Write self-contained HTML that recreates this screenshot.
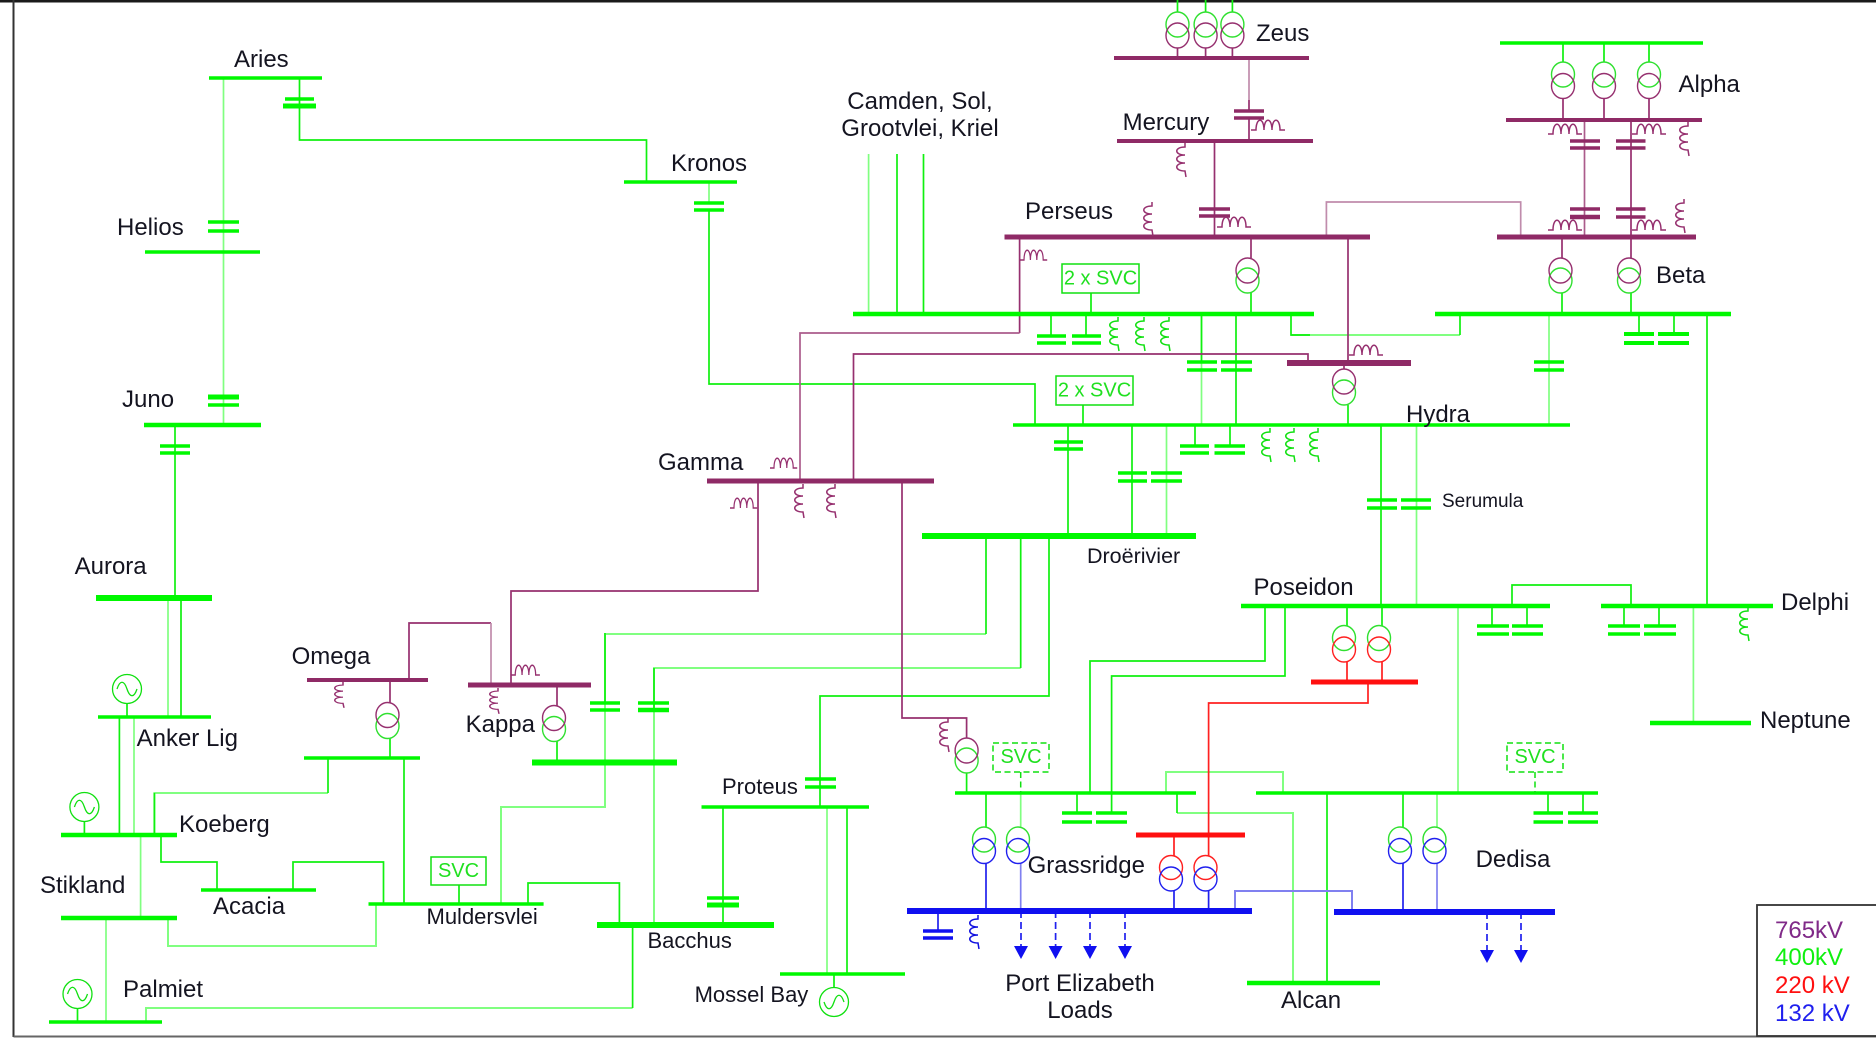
<!DOCTYPE html>
<html><head><meta charset="utf-8"><title>Grid diagram</title>
<style>
html,body{margin:0;padding:0;background:#fff}
svg{display:block}
text{font-family:"Liberation Sans",sans-serif;font-size:24px;fill:#141420;stroke:none}
.n,.l,.p,.pl,.pm,.r,.b,.bl{fill:none;stroke-width:1.7;stroke-linejoin:miter}
.n{stroke:#10f010}.l{stroke:#80ff80}.p{stroke:#96306f}.pl{stroke:#c08cac}.pm{stroke:#ab5c8c}.r{stroke:#ff2020}.b{stroke:#2020ee}.bl{stroke:#8080f0}
.bus{fill:none;stroke-linecap:butt}
.cap{fill:none;stroke-linecap:butt;stroke-width:3.4}
.sym{fill:none;stroke-width:1.5}
</style></head><body>
<svg width="1876" height="1038" viewBox="0 0 1876 1038" xmlns="http://www.w3.org/2000/svg">
<defs>
<path id="ih" d="M0 8h5c0-13 8-13 8 0c0-13 8-13 8 0c0-13 8-13 8 0h5"/>
<path id="iv" d="M2 0v4c-11 0-11 8 0 8c-11 0-11 8 0 8c-11 0-11 8 0 8l1 6"/>
</defs>
<rect width="1876" height="1038" fill="#fff"/>
<!-- frame -->
<path d="M0 1.200H1876" stroke="#1a1a1a" stroke-width="2.600" fill="none"/>
<path d="M13.500 0V1037" stroke="#333" stroke-width="2" fill="none"/>
<path d="M13.500 1036.500H1876" stroke="#666" stroke-width="2" fill="none"/>
<rect x="1757" y="905" width="125" height="131" fill="none" stroke="#333" stroke-width="1.800"/>

<!-- light green lines -->
<g class="l">
<path d="M223.500 78V425"/>
<path d="M709 182V203"/>
<path d="M868.600 154V314"/>
<path d="M168 598V717"/>
<path d="M134 717V835"/>
<path d="M140.600 835V918"/>
<path d="M106 918V1022"/>
<path d="M168 918V946H376V904" stroke-width="2"/>
<path d="M146 1022V1008H632.600" stroke-width="2"/>
<path d="M154.400 835V793H328" stroke-width="2"/>
<path d="M986 634H605V807H501V904" stroke-width="2"/>
<path d="M1020.700 668H654V925" stroke-width="2"/>
<path d="M1201.500 314V425"/>
<path d="M1166.500 425V536"/>
<path d="M1416.500 425V606"/>
<path d="M1549 314V425"/>
<path d="M1291 335H1460" stroke-width="2"/>
<path d="M1458 606V793"/>
<path d="M1693.400 606V723"/>
<path d="M1166 793V772H1283V793" stroke-width="2"/>
<path d="M1177 813H1293V983" stroke-width="2"/>
<path d="M827 807V974"/>
<path d="M1437 793V827"/>
<path d="M1020.700 793V827"/>
</g>
<!-- green lines -->
<g class="n">
<path d="M299.500 78V140H646.500V182"/>
<path d="M709 210V384H1035V425"/>
<path d="M175 425V598"/>
<path d="M181 598V717"/>
<path d="M119.400 717V835"/>
<path d="M127 703V717"/>
<path d="M84.400 821V835"/>
<path d="M77.500 1008V1022"/>
<path d="M834 974V988"/>
<path d="M154.400 835V793"/>
<path d="M328 793V758"/>
<path d="M404 758V904"/>
<path d="M390 738V758"/>
<path d="M557 741V762"/>
<path d="M161 835V862H217V890"/>
<path d="M293 890V862H383.500V904"/>
<path d="M528 904V883H619.400V925"/>
<path d="M632.600 925V1008"/>
<path d="M723 807V925"/>
<path d="M847 807V974"/>
<path d="M820 807V696H1049V536"/>
<path d="M986 536V634"/>
<path d="M1020.700 536V668"/>
<path d="M605 633V703"/>
<path d="M654 668V710"/>
<path d="M897 154V314M923.500 154V314"/>
<path d="M1201.500 314V362M1236 314V425"/>
<path d="M1051 314V335M1086 314V335"/>
<path d="M1291 314V335H1310"/>
<path d="M1460 335V314"/>
<path d="M1251 293V314"/>
<path d="M1562 293V314M1631 293V314"/>
<path d="M1639 314V334M1674 314V334"/>
<path d="M1707 314V606"/>
<path d="M1348 405V425"/>
<path d="M1068 425V536"/>
<path d="M1132 425V536"/>
<path d="M1195 425V446M1230 425V446"/>
<path d="M1381 425V606"/>
<path d="M1265 606V661H1090V793"/>
<path d="M1285 606V676H1111.600V813"/>
<path d="M1347 606V626M1382 606V626"/>
<path d="M1512 606V585H1631V606"/>
<path d="M1492 606V626M1527 606V626"/>
<path d="M1624 606V626M1659 606V626"/>
<path d="M1077 793V813"/>
<path d="M1548 793V813M1583 793V813"/>
<path d="M1177 793V813"/>
<path d="M1327 793V983"/>
<path d="M986 793V827"/>
<path d="M966.600 773V793"/>
<path d="M1403 793V827"/>
<path d="M1563 43V62M1604 43V62M1649 43V62"/>
<path d="M1177.500 0V12M1205.600 0V12M1232.400 0V12"/>
<path d="M1091 293V314M1083 405V425"/>
<path d="M459 885V904"/>
</g>
<!-- purple lines -->
<g class="p">
<path d="M1177.500 48V58M1205.600 48V58M1232.400 48V58"/>
<path d="M1249 100V111M1249 118V141"/>
<path d="M1214.500 141V237"/>
<path d="M1019.600 237V333"/>
<path d="M853.500 481V354H1308V363"/>
<path d="M1348 237V363"/>
<path d="M1251 237V258"/>
<path d="M1562 237V258M1631 120V258"/>
<path d="M1344 363V369"/>
<path d="M1563 98V120M1604 98V120M1649 98V120"/>
<path d="M758 481V591H511V685"/>
<path d="M390 680V703"/>
<path d="M409 680V623H491"/>
<path d="M557 685V706"/>
<path d="M902 481V718H966.600V738"/>
</g>
<g class="pm">
<path d="M1019.600 333H800V481"/>
<path d="M1584.500 120V237"/>
</g>
<g class="pl">
<path d="M1326.400 237V202H1520.700V237"/>
<path d="M491 623V685"/>
<path d="M1249 58V100"/>
</g>
<!-- red / blue lines -->
<g class="r">
<path d="M1347 662V682M1382 662V682"/>
<path d="M1368 682V703H1208.600V835"/>
<path d="M1174 835V856M1208.600 835V856"/>
</g>
<g class="b">
<path d="M986 863V911"/>
<path d="M1174 891V911M1208.600 891V911"/>
<path d="M1403 863V912"/>
<path d="M938 911V931"/>
<path d="M1021 911V946M1055.600 911V946M1090 911V946M1125 911V946" stroke-dasharray="7 4"/>
<path d="M1487 912V950M1521 912V950" stroke-dasharray="7 4"/>
</g>
<g class="bl">
<path d="M1020.700 863V911"/>
<path d="M1437 863V912"/>
<path d="M1235 911V891H1352V912" stroke-width="2"/>
</g>
<g fill="#1010f0">
<path d="M1014 946h14l-7 13zM1048.600 946h14l-7 13zM1083 946h14l-7 13zM1118 946h14l-7 13z"/>
<path d="M1480 950h14l-7 13zM1514 950h14l-7 13z"/>
</g>

<!-- green buses -->
<g class="bus" stroke="#00f800">
<path stroke-width="3.600" d="M209 78H322M624 182H737M145 252H260M1500 43H1703M98 717H211M49 1022H162M201 890H316M368.500 904H543.600M701.500 807H869M780 974H905M955 793H1196M1256 793H1598M1013 425H1570M304 758H420"/>
<path stroke-width="4.500" d="M144 425H261M853 314H1314M1435 314H1731M61 835H177M61 918H177M1241 606H1550M1601 606H1773M1650 723H1751M1247 983H1380"/>
<path stroke-width="6" d="M96 598H212M532 762.500H677M597 925H774M922 536H1196"/>
</g>
<!-- purple buses -->
<g class="bus" stroke="#8f2a66">
<path stroke-width="4" d="M1114 58H1309M1117 141H1313M1506 120H1702M307 680H428"/>
<path stroke-width="5" d="M707 481H934M1004.500 237H1370M1497 237H1696M468 685H591"/>
<path stroke-width="6" d="M1287 363H1411"/>
</g>
<g class="bus" stroke="#ff1010" stroke-width="5"><path d="M1311 682H1418M1136 835H1245"/></g>
<g class="bus" stroke="#1010f0" stroke-width="6"><path d="M907 911H1252M1334 912H1555"/></g>

<!-- capacitors -->
<g class="cap" stroke="#00f800">
<path d="M285 99H314"/><path d="M283 106H316" stroke-width="5"/>
<path d="M208 222H239M208 231H239"/>
<path d="M208 397H239" stroke-width="5"/><path d="M208 405H239"/>
<path d="M694 203H724M694 210H724"/>
<path d="M160 446H190M160 453H190"/>
<path d="M1037 336H1066M1037 343H1066M1072 336H1101M1072 343H1101"/>
<path d="M1187 362H1217M1187 370H1217M1221 362H1252M1221 370H1252"/>
<path d="M1534 362H1564M1534 370H1564"/>
<path d="M1624 334H1654M1624 343H1654M1658 334H1689M1658 343H1689" stroke-width="4"/>
<path d="M1054 442H1083M1054 449H1083"/>
<path d="M1118 473H1147M1118 481H1147M1151 473H1182M1151 481H1182"/>
<path d="M1180 446H1209M1180 453H1209M1214.500 446H1245M1214.500 453H1245"/>
<path d="M1367 500H1397M1367 508H1397M1401 500H1431M1401 508H1431"/>
<path d="M1477 626H1509M1477 634H1509M1512 626H1543M1512 634H1543"/>
<path d="M1608 626H1640M1608 634H1640M1644 626H1676M1644 634H1676"/>
<path d="M1062 813H1092M1062 822H1092M1096 813H1127M1096 822H1127"/>
<path d="M1533.500 813H1563M1533.500 822H1563M1568 813H1598M1568 822H1598"/>
<path d="M590 703H620M590 710H620"/>
<path d="M638 703H669"/><path d="M638 710H669" stroke-width="4.500"/>
<path d="M805 779H836M805 787H836"/>
<path d="M707 898H739"/><path d="M707 905H739" stroke-width="5"/>
</g>
<g class="cap" stroke="#8f2a66">
<path d="M1234 111H1264M1234 118H1264"/>
<path d="M1199 209H1230M1199 216H1230"/>
<path d="M1570 141H1600M1570 148H1600M1616 141H1645.500M1616 148H1645.500"/>
<path d="M1570 209H1600"/><path d="M1570 217H1600" stroke-width="4.500"/>
<path d="M1616 209H1645.500M1616 217H1645.500"/>
</g>
<g class="cap" stroke="#1010f0"><path d="M923 931H953M923 938H953"/></g>

<!-- inductors -->
<g class="sym" stroke="#96306f">
<use href="#ih" x="1251" y="122"/>
<use href="#iv" x="1183" y="143"/>
<use href="#ih" x="1217" y="219"/>
<use href="#iv" x="1150" y="202"/>
<use href="#ih" x="1548" y="126"/>
<use href="#ih" x="1632" y="126"/>
<use href="#iv" x="1686" y="122"/>
<use href="#ih" x="1548" y="222"/>
<use href="#ih" x="1632" y="222"/>
<use href="#iv" x="1682" y="199"/>
<use href="#ih" transform="translate(1020 252) scale(.8 1)"/>
<use href="#ih" x="1349" y="347"/>
<use href="#ih" transform="translate(770 460) scale(.8 1)"/>
<use href="#ih" transform="translate(730 500) scale(.8 1)"/>
<use href="#iv" x="801" y="484"/>
<use href="#iv" x="833" y="484"/>
<use href="#ih" transform="translate(511 667) scale(.85 1)"/>
<use href="#iv" transform="translate(341 682) scale(1 .76)"/>
<use href="#iv" transform="translate(496 688) scale(1 .76)"/>
<use href="#iv" x="946" y="718"/>
</g>
<g class="sym" stroke="#10e010">
<use href="#iv" x="1116" y="317"/>
<use href="#iv" x="1142" y="317"/>
<use href="#iv" x="1167" y="317"/>
<use href="#iv" x="1268" y="428"/>
<use href="#iv" x="1292" y="428"/>
<use href="#iv" x="1316" y="428"/>
<use href="#iv" x="1746" y="607"/>
</g>
<g class="sym" stroke="#1010e0"><use href="#iv" x="976" y="915"/></g>

<!-- transformers -->
<g fill="none" stroke-width="1.400">
<g stroke="#30e030">
<ellipse cx="1177.500" cy="24.500" rx="11.500" ry="12.500"/><ellipse cx="1205.600" cy="24.500" rx="11.500" ry="12.500"/><ellipse cx="1232.400" cy="24.500" rx="11.500" ry="12.500"/>
<ellipse cx="1563" cy="74.500" rx="11.500" ry="12.500"/><ellipse cx="1604" cy="74.500" rx="11.500" ry="12.500"/><ellipse cx="1649" cy="74.500" rx="11.500" ry="12.500"/>
<ellipse cx="1247.500" cy="280.500" rx="11.500" ry="12.500"/><ellipse cx="1560.500" cy="280.500" rx="11.500" ry="12.500"/><ellipse cx="1629" cy="280.500" rx="11.500" ry="12.500"/>
<ellipse cx="1344" cy="392.500" rx="11.500" ry="12.500"/>
<ellipse cx="387.500" cy="726" rx="11.500" ry="12.500"/><ellipse cx="554" cy="729" rx="11.500" ry="12.500"/>
<ellipse cx="966.600" cy="760.500" rx="11.500" ry="12.500"/>
<ellipse cx="1344" cy="638" rx="11.500" ry="12.500"/><ellipse cx="1379" cy="638" rx="11.500" ry="12.500"/>
<ellipse cx="984" cy="839.500" rx="11.500" ry="12.500"/><ellipse cx="1018" cy="839.500" rx="11.500" ry="12.500"/>
<ellipse cx="1400" cy="839.500" rx="11.500" ry="12.500"/><ellipse cx="1434.500" cy="839.500" rx="11.500" ry="12.500"/>
</g>
<g stroke="#96306f">
<ellipse cx="1177.500" cy="35.500" rx="11.500" ry="12.500"/><ellipse cx="1205.600" cy="35.500" rx="11.500" ry="12.500"/><ellipse cx="1232.400" cy="35.500" rx="11.500" ry="12.500"/>
<ellipse cx="1563" cy="86" rx="11.500" ry="12.500"/><ellipse cx="1604" cy="86" rx="11.500" ry="12.500"/><ellipse cx="1649" cy="86" rx="11.500" ry="12.500"/>
<ellipse cx="1247.500" cy="270.500" rx="11.500" ry="12.500"/><ellipse cx="1560.500" cy="270.500" rx="11.500" ry="12.500"/><ellipse cx="1629" cy="270.500" rx="11.500" ry="12.500"/>
<ellipse cx="1344" cy="381.500" rx="11.500" ry="12.500"/>
<ellipse cx="387.500" cy="715" rx="11.500" ry="12.500"/><ellipse cx="554" cy="718" rx="11.500" ry="12.500"/>
<ellipse cx="966.600" cy="750.500" rx="11.500" ry="12.500"/>
</g>
<g stroke="#ff2020">
<ellipse cx="1344" cy="649.500" rx="11.500" ry="12.500"/><ellipse cx="1379" cy="649.500" rx="11.500" ry="12.500"/>
<ellipse cx="1171" cy="867.500" rx="11.500" ry="12"/><ellipse cx="1205.500" cy="867.500" rx="11.500" ry="12"/>
</g>
<g stroke="#2020ee">
<ellipse cx="984" cy="851" rx="11.500" ry="12.500"/><ellipse cx="1018" cy="851" rx="11.500" ry="12.500"/>
<ellipse cx="1400" cy="851" rx="11.500" ry="12.500"/><ellipse cx="1434.500" cy="851" rx="11.500" ry="12.500"/>
<ellipse cx="1171" cy="879" rx="11.500" ry="12"/><ellipse cx="1205.500" cy="879" rx="11.500" ry="12"/>
</g>
</g>

<!-- generators -->
<g fill="none" stroke="#10e010" stroke-width="1.300">
<circle cx="127" cy="689" r="14.500"/><path d="M117 689c3-9 7-9 10 0s7 9 10 0"/>
<circle cx="84.400" cy="807" r="14.500"/><path d="M74.400 807c3-9 7-9 10 0s7 9 10 0"/>
<circle cx="77.500" cy="994" r="14.500"/><path d="M67.500 994c3-9 7-9 10 0s7 9 10 0"/>
<circle cx="834" cy="1002" r="14.500"/><path d="M824 1002c3 9 7 9 10 0s7-9 10 0"/>
</g>

<!-- SVC boxes -->
<g fill="#fff" stroke="#10e010" stroke-width="1.500">
<rect x="1062" y="264" width="77" height="29"/>
<rect x="1056" y="376" width="77" height="29"/>
<rect x="431" y="857" width="55" height="28"/>
<rect x="993" y="743" width="56" height="29" stroke-dasharray="6 3.500"/>
<rect x="1507" y="743" width="56" height="29" stroke-dasharray="6 3.500"/>
<path d="M1020.700 772V793M1535 772V793" stroke-dasharray="6 3.500" fill="none"/>
</g>
<text x="1100.500" y="284.500" text-anchor="middle" style="font-size:20px;fill:#20e020">2 x SVC</text>
<text x="1094.500" y="396.500" text-anchor="middle" style="font-size:20px;fill:#20e020">2 x SVC</text>
<text x="458.500" y="877" text-anchor="middle" style="font-size:20px;fill:#20e020">SVC</text>
<text x="1021" y="763" text-anchor="middle" style="font-size:20px;fill:#20e020">SVC</text>
<text x="1535" y="763" text-anchor="middle" style="font-size:20px;fill:#20e020">SVC</text>

<!-- labels -->
<text x="234" y="67">Aries</text>
<text x="671" y="171">Kronos</text>
<text x="117" y="235">Helios</text>
<text x="122" y="407">Juno</text>
<text x="658" y="470">Gamma</text>
<text x="1256" y="41">Zeus</text>
<text x="1122.600" y="130">Mercury</text>
<text x="1025" y="219">Perseus</text>
<text x="1678.500" y="92">Alpha</text>
<text x="1656" y="283">Beta</text>
<text x="920" y="109" text-anchor="middle">Camden, Sol,</text>
<text x="920" y="136" text-anchor="middle">Grootvlei, Kriel</text>
<text x="1406" y="422">Hydra</text>
<text x="1442" y="507" style="font-size:19px">Serumula</text>
<text x="1087" y="563" style="font-size:21.500px">Droërivier</text>
<text x="1253.500" y="595">Poseidon</text>
<text x="1781" y="610">Delphi</text>
<text x="1760" y="728">Neptune</text>
<text x="74.600" y="574">Aurora</text>
<text x="136.600" y="746">Anker Lig</text>
<text x="291.600" y="664">Omega</text>
<text x="465.600" y="732">Kappa</text>
<text x="179" y="832">Koeberg</text>
<text x="40" y="893">Stikland</text>
<text x="213" y="914">Acacia</text>
<text x="426.500" y="924" style="font-size:22px">Muldersvlei</text>
<text x="722" y="794" style="font-size:22px">Proteus</text>
<text x="647.500" y="948" style="font-size:22px">Bacchus</text>
<text x="123" y="997">Palmiet</text>
<text x="694.600" y="1002" style="font-size:22px">Mossel Bay</text>
<text x="1027.600" y="873">Grassridge</text>
<text x="1475.600" y="867">Dedisa</text>
<text x="1080" y="991" text-anchor="middle">Port Elizabeth</text>
<text x="1080" y="1018" text-anchor="middle">Loads</text>
<text x="1281" y="1008">Alcan</text>
<text x="1775" y="938" style="fill:#802a88">765kV</text>
<text x="1775" y="965" style="fill:#10f010">400kV</text>
<text x="1775" y="993" style="fill:#ff1010">220 kV</text>
<text x="1775" y="1021" style="fill:#2020ee">132 kV</text>
</svg>
</body></html>
